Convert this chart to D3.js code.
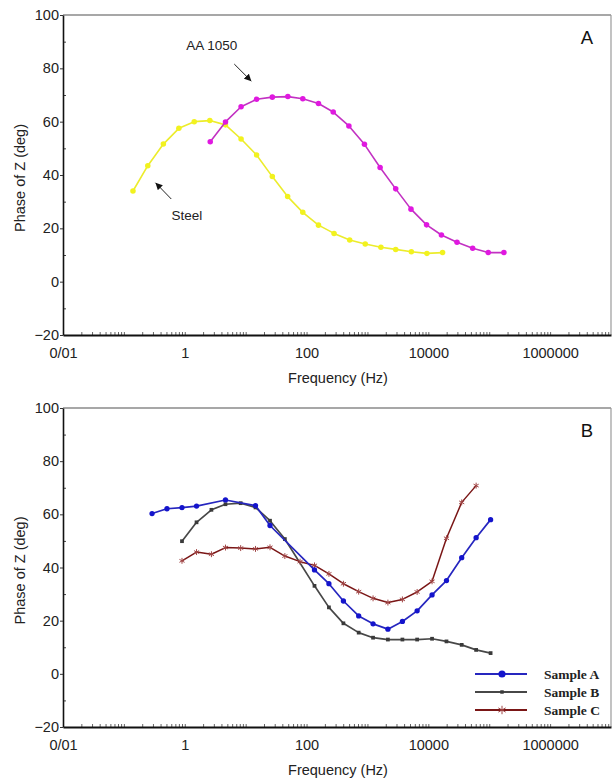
<!DOCTYPE html>
<html>
<head>
<meta charset="utf-8">
<script src="https://cdn.jsdelivr.net/npm/d3@7"></script>
<style>
  html, body { margin: 0; padding: 0; background: #fff; }
  svg { display: block; font-family: "Liberation Sans", Arial, sans-serif; }
</style>
</head>
<body>
<svg id="chart" width="613" height="778"></svg>
<script>
// ---- Axis ticks ----
const xTickValues = [0.01, 1, 100, 10000, 1000000];
const xTickLabels = ["0/01", "1", "100", "10000", "1000000"];
const yTickValues = [-20, 0, 20, 40, 60, 80, 100];
const yMinorTicks = [-10, 10, 30, 50, 70, 90];

// ---- Panel A: steel vs. AA 1050 ----
const steelFreq  = [0.141, 0.247, 0.445, 0.80, 1.43, 2.58, 4.66, 8.41, 15.1, 27.4, 48.9,
                    86.7, 157, 283, 511, 920, 1663, 2911, 5260, 9480, 17140];
const steelPhase = [34.0, 43.5, 51.6, 57.5, 60.0, 60.4, 58.8, 53.5, 47.5, 39.4, 31.9,
                    26.0, 21.2, 18.1, 15.6, 14.1, 12.9, 12.1, 11.2, 10.6, 10.9];

const aaFreq  = [2.62, 4.66, 8.41, 15.1, 27.4, 49.3, 86.7, 157, 274, 496, 893,
                 1614, 2911, 5188, 9354, 16410, 29580, 53460, 96390, 174200];
const aaPhase = [52.5, 59.9, 65.6, 68.4, 69.2, 69.4, 68.6, 66.8, 63.6, 58.4, 51.5,
                 42.8, 34.8, 27.2, 21.3, 17.5, 14.8, 12.5, 10.9, 10.9];

// ---- Panel B: samples A, B, C ----
const sampleAFreq  = [0.29, 0.51, 0.90, 1.56, 4.66, 14.5, 25.1, 135, 233, 403, 718,
                      1236, 2168, 3750, 6546, 11510, 19860, 35320, 60950, 105400];
const sampleAPhase = [60.3, 62.1, 62.5, 63.1, 65.4, 63.3, 55.8, 39.1, 33.9, 27.4, 21.8,
                      18.8, 16.8, 19.7, 23.7, 29.7, 35.1, 43.7, 51.2, 58.0];

const sampleBFreq  = [0.90, 1.56, 2.74, 4.66, 8.28, 14.5, 25.1, 44.0, 135, 233, 403,
                      718, 1236, 2168, 3750, 6546, 11510, 19860, 35320, 60950, 105400];
const sampleBPhase = [49.9, 57.0, 61.7, 63.8, 64.2, 62.6, 57.6, 50.7, 33.1, 25.0, 19.0,
                      15.5, 13.6, 12.9, 12.9, 12.9, 13.2, 12.2, 10.9, 9.0, 7.8];

const sampleCFreq  = [0.90, 1.56, 2.74, 4.66, 8.28, 14.5, 25.1, 44.0, 78.2, 135, 233,
                      403, 718, 1236, 2168, 3750, 6546, 11510, 19860, 35320, 60950];
const sampleCPhase = [42.5, 45.8, 45.0, 47.5, 47.3, 47.0, 47.6, 44.3, 42.2, 40.8, 37.6,
                      33.9, 30.9, 28.4, 26.8, 28.0, 30.8, 34.8, 51.0, 64.5, 70.8];

const legendLabels = ["Sample A", "Sample B", "Sample C"];

// ---- Shared scales / layout ----
const svg = d3.select("#chart");
const x = d3.scaleLog().domain([0.01, 1e7]).range([63, 611]);
const zip = (f, p) => f.map((v, i) => ({ f: v, p: p[i] }));
const SANS = "'Liberation Sans', Arial, sans-serif";
const SERIF = "'Liberation Serif', 'Times New Roman', serif";

svg.append("defs").append("marker")
  .attr("id", "arrow")
  .attr("viewBox", "0 0 10 10")
  .attr("refX", 10).attr("refY", 5)
  .attr("markerWidth", 7).attr("markerHeight", 7)
  .attr("markerUnits", "userSpaceOnUse")
  .attr("orient", "auto")
  .append("path").attr("d", "M0,0 L10,5 L0,10 Z").attr("fill", "#111");

function drawPanel(top, bottom, letter) {
  const y = d3.scaleLinear().domain([-20, 100]).range([bottom, top]);
  const g = svg.append("g");
  const [x0, x1] = x.range();

  // frame: grey top and right edges
  g.append("line").attr("x1", x0).attr("x2", x1).attr("y1", top).attr("y2", top)
    .attr("stroke", "#8a8a8a").attr("stroke-width", 1.5);
  g.append("line").attr("x1", x1).attr("x2", x1).attr("y1", top).attr("y2", bottom)
    .attr("stroke", "#9a9a9a").attr("stroke-width", 1.2);

  // minor log ticks along the frequency axis, pointing inward
  const minor = [];
  for (let e = -2; e < 7; e++) for (let m = 1; m < 10; m++) minor.push(m * Math.pow(10, e));
  g.append("g").attr("transform", `translate(0,${bottom})`)
    .call(d3.axisTop(x).tickValues(minor).tickSize(3).tickFormat(""))
    .call(a => a.select(".domain").remove())
    .call(a => a.selectAll("line").attr("stroke", "#666"));

  // frequency axis labels
  g.append("g").attr("transform", `translate(0,${bottom})`)
    .call(d3.axisBottom(x).tickValues(xTickValues).tickSize(0).tickSizeOuter(0).tickPadding(13)
      .tickFormat((d, i) => xTickLabels[i]))
    .call(a => a.select(".domain").attr("stroke", "#111").attr("stroke-width", 2))
    .call(a => a.selectAll("text").style("font-size", "14.5px").style("font-family", SANS)
      .attr("fill", "#222"));

  // phase axis
  g.append("g").attr("transform", `translate(${x0},0)`)
    .call(d3.axisRight(y).tickValues(yMinorTicks).tickSize(3).tickFormat(""))
    .call(a => a.select(".domain").remove())
    .call(a => a.selectAll("line").attr("stroke", "#444"));
  g.append("g").attr("transform", `translate(${x0},0)`)
    .call(d3.axisLeft(y).tickValues(yTickValues).tickSize(3).tickSizeOuter(0).tickPadding(1))
    .call(a => a.select(".domain").attr("stroke", "#111").attr("stroke-width", 1.6))
    .call(a => a.selectAll("line").attr("stroke", "#333"))
    .call(a => a.selectAll("text").style("font-size", "14.5px").style("font-family", SANS)
      .attr("fill", "#222"));

  // axis titles
  g.append("text").attr("x", 338).attr("y", bottom + 48)
    .attr("text-anchor", "middle").style("font-size", "14.5px").attr("fill", "#222")
    .text("Frequency (Hz)");
  g.append("text")
    .attr("transform", `translate(25,${(top + bottom) / 2 + 3}) rotate(-90)`)
    .attr("text-anchor", "middle").style("font-size", "14.5px").attr("fill", "#222")
    .text("Phase of Z (deg)");

  // panel letter
  g.append("text").attr("x", x1 - 24).attr("y", top + 29)
    .attr("text-anchor", "middle").style("font-size", "18.5px").attr("fill", "#111")
    .text(letter);

  return { g, y };
}

function drawSeries(g, y, pts, opt) {
  const line = d3.line().x(d => x(d.f)).y(d => y(d.p));
  g.append("path").datum(pts).attr("d", line).attr("fill", "none")
    .attr("stroke", opt.line).attr("stroke-width", opt.width || 1.6)
    .attr("stroke-linejoin", "round");
  const sym = d3.symbol().type(opt.symbol).size(opt.size);
  g.append("g").selectAll("path").data(pts).join("path")
    .attr("transform", d => `translate(${x(d.f)},${y(d.p)})`)
    .attr("d", sym)
    .attr("fill", opt.symbol === d3.symbolAsterisk ? "none" : opt.marker)
    .attr("stroke", opt.symbol === d3.symbolAsterisk ? opt.marker : "none")
    .attr("stroke-width", 1);
}

// ---- Panel A ----
const A = drawPanel(15, 335, "A");
drawSeries(A.g, A.y, zip(steelFreq, steelPhase),
  { line: "#ecec2c", marker: "#f2f21e", symbol: d3.symbolCircle, size: 24, width: 1.6 });
drawSeries(A.g, A.y, zip(aaFreq, aaPhase),
  { line: "#c231c2", marker: "#e018e0", symbol: d3.symbolCircle, size: 24, width: 1.6 });

// callouts for the two curves
A.g.append("text").attr("x", x(2.77)).attr("y", A.y(86.9))
  .attr("text-anchor", "middle").style("font-size", "13.5px").attr("fill", "#222").text("AA 1050");
A.g.append("line")
  .attr("x1", x(6.5)).attr("y1", A.y(81.6)).attr("x2", x(12.4)).attr("y2", A.y(75.2))
  .attr("stroke", "#222").attr("stroke-width", 1).attr("marker-end", "url(#arrow)");
A.g.append("text").attr("x", x(1.08)).attr("y", A.y(23.1))
  .attr("text-anchor", "middle").style("font-size", "13.5px").attr("fill", "#222").text("Steel");
A.g.append("line")
  .attr("x1", x(0.6)).attr("y1", A.y(31)).attr("x2", x(0.33)).attr("y2", A.y(37.1))
  .attr("stroke", "#222").attr("stroke-width", 1).attr("marker-end", "url(#arrow)");

// ---- Panel B ----
const B = drawPanel(408, 727, "B");
const styleA = { line: "#2626bf", marker: "#1414cc", symbol: d3.symbolCircle, size: 22, width: 1.7 };
const styleB = { line: "#474747", marker: "#3a3a3a", symbol: d3.symbolSquare, size: 14, width: 1.7 };
const styleC = { line: "#7a1616", marker: "#a04444", symbol: d3.symbolAsterisk, size: 24, width: 1.5 };
drawSeries(B.g, B.y, zip(sampleBFreq, sampleBPhase), styleB);
drawSeries(B.g, B.y, zip(sampleCFreq, sampleCPhase), styleC);
drawSeries(B.g, B.y, zip(sampleAFreq, sampleAPhase), styleA);

// legend
const legendStyles = [
  { ...styleA, size: 40 },
  { ...styleB, size: 12 },
  { ...styleC, size: 50 }
];
const leg = B.g.append("g").attr("transform", "translate(475,674)");
legendLabels.forEach((label, i) => {
  const row = leg.append("g").attr("transform", `translate(0,${i * 18})`);
  const st = legendStyles[i];
  row.append("line").attr("x1", 0).attr("x2", 52).attr("y1", 0).attr("y2", 0)
    .attr("stroke", st.line).attr("stroke-width", 2);
  row.append("path").attr("transform", "translate(27,0)")
    .attr("d", d3.symbol().type(st.symbol).size(st.size))
    .attr("fill", st.symbol === d3.symbolAsterisk ? "none" : st.marker)
    .attr("stroke", st.symbol === d3.symbolAsterisk ? st.marker : "none")
    .attr("stroke-width", 1);
  row.append("text").attr("x", 69).attr("y", 4.5)
    .style("font-family", SERIF).style("font-weight", "bold").style("font-size", "13.5px")
    .attr("fill", "#222")
    .text(label);
});
</script>
</body>
</html>
